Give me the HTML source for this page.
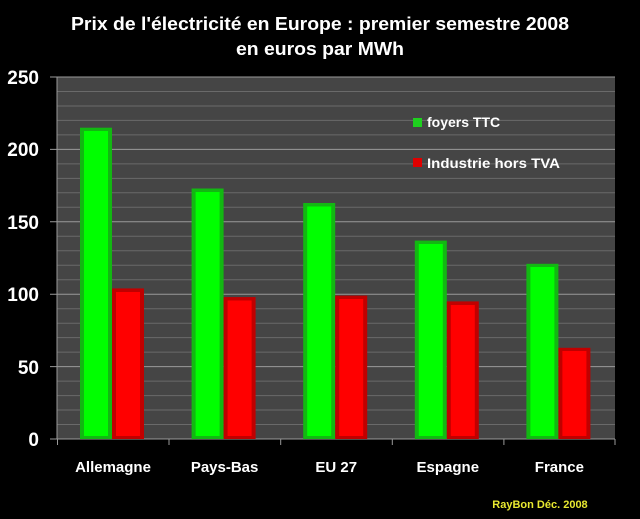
<!DOCTYPE html>
<html><head><meta charset="utf-8"><style>
html,body{margin:0;padding:0;background:#000;}
svg{display:block;font-family:"Liberation Sans",sans-serif;font-weight:bold;}
</style></head><body>
<svg width="640" height="519" viewBox="0 0 640 519" xmlns="http://www.w3.org/2000/svg">
<rect width="640" height="519" fill="#000"/>
<text x="320" y="30" fill="#fff" font-size="18" text-anchor="middle" textLength="498" lengthAdjust="spacingAndGlyphs">Prix de l'électricité en Europe : premier semestre 2008</text>
<text x="320" y="55" fill="#fff" font-size="18" text-anchor="middle" textLength="168" lengthAdjust="spacingAndGlyphs">en euros par MWh</text>
<rect x="57" y="77" width="558" height="362" fill="#454545"/>
<g stroke="#6a6a6a" stroke-width="1">
<line x1="57" x2="615" y1="424.5" y2="424.5"/><line x1="57" x2="615" y1="410" y2="410"/><line x1="57" x2="615" y1="395.6" y2="395.6"/><line x1="57" x2="615" y1="381.1" y2="381.1"/>
<line x1="57" x2="615" y1="352.1" y2="352.1"/><line x1="57" x2="615" y1="337.6" y2="337.6"/><line x1="57" x2="615" y1="323.2" y2="323.2"/><line x1="57" x2="615" y1="308.7" y2="308.7"/>
<line x1="57" x2="615" y1="279.7" y2="279.7"/><line x1="57" x2="615" y1="265.2" y2="265.2"/><line x1="57" x2="615" y1="250.8" y2="250.8"/><line x1="57" x2="615" y1="236.3" y2="236.3"/>
<line x1="57" x2="615" y1="207.3" y2="207.3"/><line x1="57" x2="615" y1="192.8" y2="192.8"/><line x1="57" x2="615" y1="178.4" y2="178.4"/><line x1="57" x2="615" y1="163.9" y2="163.9"/>
<line x1="57" x2="615" y1="134.9" y2="134.9"/><line x1="57" x2="615" y1="120.4" y2="120.4"/><line x1="57" x2="615" y1="106" y2="106"/><line x1="57" x2="615" y1="91.5" y2="91.5"/>
</g>
<g stroke="#9a9a9a" stroke-width="1">
<line x1="50" x2="615" y1="366.6" y2="366.6"/><line x1="50" x2="615" y1="294.2" y2="294.2"/><line x1="50" x2="615" y1="221.8" y2="221.8"/><line x1="50" x2="615" y1="149.4" y2="149.4"/><line x1="50" x2="615" y1="77" y2="77"/>
<line x1="57" x2="57" y1="77" y2="439"/>
<line x1="50" x2="615" y1="439" y2="439"/>
<line x1="57.5" x2="57.5" y1="439" y2="445"/><line x1="169" x2="169" y1="439" y2="445"/><line x1="280.7" x2="280.7" y1="439" y2="445"/><line x1="392.3" x2="392.3" y1="439" y2="445"/><line x1="503.9" x2="503.9" y1="439" y2="445"/><line x1="615" x2="615" y1="439" y2="445"/>
</g>
<g fill="#fff" font-size="19" text-anchor="end">
<text x="39" y="446">0</text><text x="39" y="374">50</text><text x="39" y="301">100</text><text x="39" y="229">150</text><text x="39" y="156">200</text><text x="39" y="84">250</text>
</g>
<!-- green bars -->
<g>
<rect x="80" y="127.7" width="32" height="311.3" fill="#12b812"/><rect x="84" y="131" width="24" height="305" fill="#00ff00"/>
<rect x="191.6" y="188.5" width="32" height="250.5" fill="#12b812"/><rect x="195.6" y="192" width="24" height="244" fill="#00ff00"/>
<rect x="303.2" y="203" width="32" height="236" fill="#12b812"/><rect x="307.2" y="206.5" width="24" height="229.5" fill="#00ff00"/>
<rect x="414.8" y="240.6" width="32" height="198.4" fill="#12b812"/><rect x="418.8" y="244" width="24" height="192" fill="#00ff00"/>
<rect x="526.4" y="263.8" width="32" height="175.2" fill="#12b812"/><rect x="530.4" y="267" width="24" height="169" fill="#00ff00"/>
</g>
<g>
<rect x="112" y="288.4" width="32" height="150.6" fill="#c00000"/><rect x="116" y="292" width="24" height="144" fill="#ff0000"/>
<rect x="223.6" y="297.1" width="32" height="141.9" fill="#c00000"/><rect x="227.6" y="300.5" width="24" height="135.5" fill="#ff0000"/>
<rect x="335.2" y="295.6" width="32" height="143.4" fill="#c00000"/><rect x="339.2" y="299" width="24" height="137" fill="#ff0000"/>
<rect x="446.8" y="301.4" width="32" height="137.6" fill="#c00000"/><rect x="450.8" y="305" width="24" height="131" fill="#ff0000"/>
<rect x="558.4" y="347.8" width="32" height="91.2" fill="#c00000"/><rect x="562.4" y="351" width="24" height="85" fill="#ff0000"/>
</g>
<rect x="413" y="118" width="9" height="9" fill="#1ed01e"/>
<text x="427" y="127" fill="#fff" font-size="14">foyers TTC</text>
<rect x="413" y="158" width="9" height="9" fill="#e00000"/>
<text x="427" y="168" fill="#fff" font-size="14" textLength="133" lengthAdjust="spacingAndGlyphs">Industrie hors TVA</text>
<g fill="#fff" font-size="15" text-anchor="middle">
<text x="113" y="472">Allemagne</text><text x="224.6" y="472">Pays-Bas</text><text x="336.2" y="472">EU 27</text><text x="447.8" y="472">Espagne</text><text x="559.4" y="472">France</text>
</g>
<text x="540" y="508" fill="#e8e830" font-size="11" text-anchor="middle">RayBon Déc. 2008</text>
</svg>
</body></html>
